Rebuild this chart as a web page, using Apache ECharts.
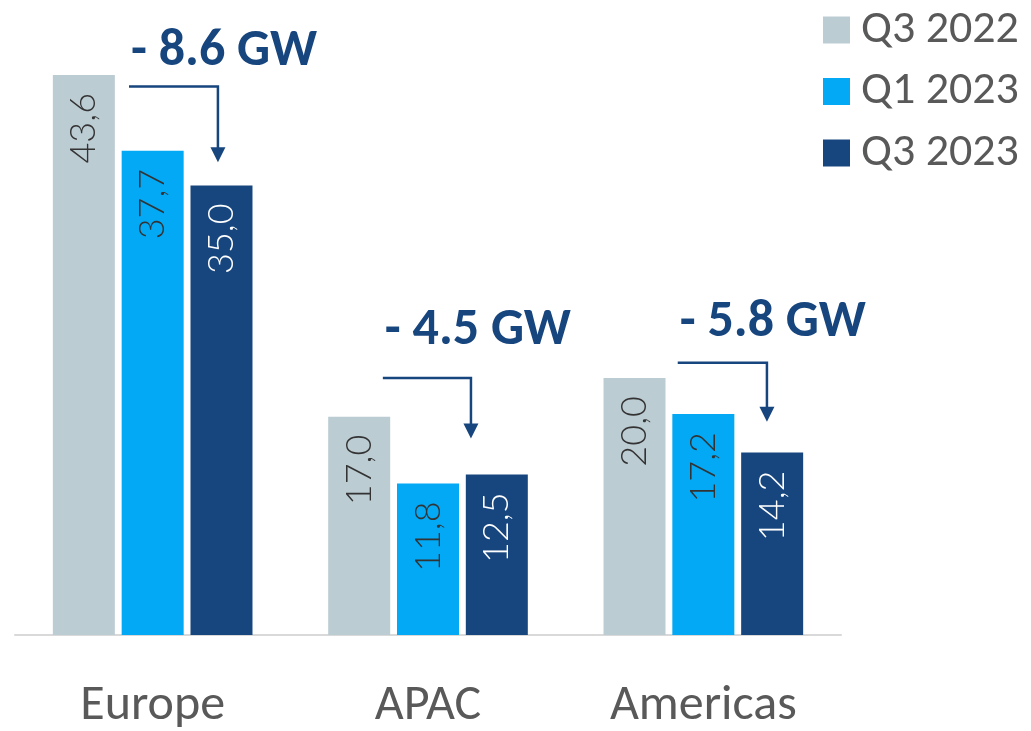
<!DOCTYPE html>
<html>
<head>
<meta charset="utf-8">
<script src="https://cdn.jsdelivr.net/npm/echarts@6/dist/echarts.min.js"></script>
<style>
  html, body { margin: 0; padding: 0; background: #fff; }
  #main { width: 1031px; height: 731px; }
</style>
</head>
<body>
<div id="main"></div>
<script>
const regions = ['Europe', 'APAC', 'Americas'];
const periods = ['Q3 2022', 'Q1 2023', 'Q3 2023'];
const q3_2022 = [43.6, 17.0, 20.0];
const q1_2023 = [37.7, 11.8, 17.2];
const q3_2023 = [35.0, 12.5, 14.2];
const deltas = ['- 8.6 GW', '- 4.5 GW', '- 5.8 GW'];

// where the hand drawn arrows sit (GW levels, offsets in category widths)
const arrows = [
  { text: 0, textY: 45.4, lineY: 42.7, tipY: 36.8, x0: -0.086, x1: 0.237 },
  { text: 1, textY: 23.7, lineY: 20.0, tipY: 15.3, x0: -0.164, x1: 0.156 },
  { text: 2, textY: 24.3, lineY: 21.2, tipY: 16.6, x0: -0.093, x1: 0.231 }
];

const FONT = 'Carlito, Calibri, Lato, "Open Sans", sans-serif';
const LIGHT = 'Lato, Carlito, sans-serif';
const GREY = '#595959';
const NAVY = '#17467F';

var chart = echarts.init(document.getElementById('main'));

function fmt(p) {
  return p.value.toFixed(1).replace('.', ',');
}

function barSeries(name, data, color, labelColor) {
  return {
    name: name,
    type: 'bar',
    data: data,
    barWidth: 62,
    barGap: '11%',
    itemStyle: { color: color },
    label: {
      show: true,
      position: 'insideTop',
      rotate: 90,
      align: 'right',
      verticalAlign: 'middle',
      distance: 18,
      formatter: fmt,
      fontFamily: LIGHT,
      fontWeight: 300,
      fontSize: 36,
      color: labelColor
    }
  };
}

chart.setOption({
  animation: false,
  textStyle: { fontFamily: FONT },
  grid: { left: 15, right: 190, top: 57, bottom: 95 },
  legend: {
    orient: 'vertical',
    left: 818,
    top: 2,
    itemWidth: 27,
    itemHeight: 27,
    itemGap: 15.5,
    icon: 'rect',
    data: periods,
    textStyle: { fontSize: 46, color: GREY, padding: [0, 0, 0, 6], fontFamily: FONT }
  },
  xAxis: {
    type: 'category',
    data: regions,
    axisLine: { lineStyle: { color: '#D9D9D9', width: 2 } },
    axisTick: { show: false },
    axisLabel: { fontSize: 50, color: GREY, margin: 46, fontFamily: FONT }
  },
  yAxis: {
    type: 'value',
    min: 0,
    max: 45,
    show: false,
    splitLine: { show: false }
  },
  series: [
    barSeries(periods[0], q3_2022, '#BCCCD3', '#333333'),
    barSeries(periods[1], q1_2023, '#03A9F4', '#333333'),
    barSeries(periods[2], q3_2023, NAVY, '#FFFFFF')
  ]
});

// arrows + delta labels placed through the chart's own scales
function drawArrows() {
  var band = chart.convertToPixel({ xAxisIndex: 0 }, 1) - chart.convertToPixel({ xAxisIndex: 0 }, 0);
  var els = [];
  arrows.forEach(function (a, i) {
    var cx = chart.convertToPixel({ xAxisIndex: 0 }, i);
    var xs = cx + a.x0 * band;
    var xe = cx + a.x1 * band;
    var yl = chart.convertToPixel({ yAxisIndex: 0 }, a.lineY);
    var yt = chart.convertToPixel({ yAxisIndex: 0 }, a.tipY);
    var ty = chart.convertToPixel({ yAxisIndex: 0 }, a.textY);
    els.push({
      type: 'polyline',
      shape: { points: [[xs, yl], [xe, yl], [xe, yt - 14]] },
      style: { stroke: NAVY, lineWidth: 2.5, fill: null }
    });
    els.push({
      type: 'polygon',
      shape: { points: [[xe - 7.5, yt - 15], [xe + 7.5, yt - 15], [xe, yt]] },
      style: { fill: NAVY }
    });
    els.push({
      type: 'text',
      x: xs + 2,
      y: ty,
      style: {
        text: deltas[a.text],
        fontFamily: FONT,
        fontSize: 52,
        fontWeight: 'bold',
        fill: NAVY,
        verticalAlign: 'middle'
      }
    });
  });
  chart.setOption({ graphic: els });
}
drawArrows();
</script>
</body>
</html>
